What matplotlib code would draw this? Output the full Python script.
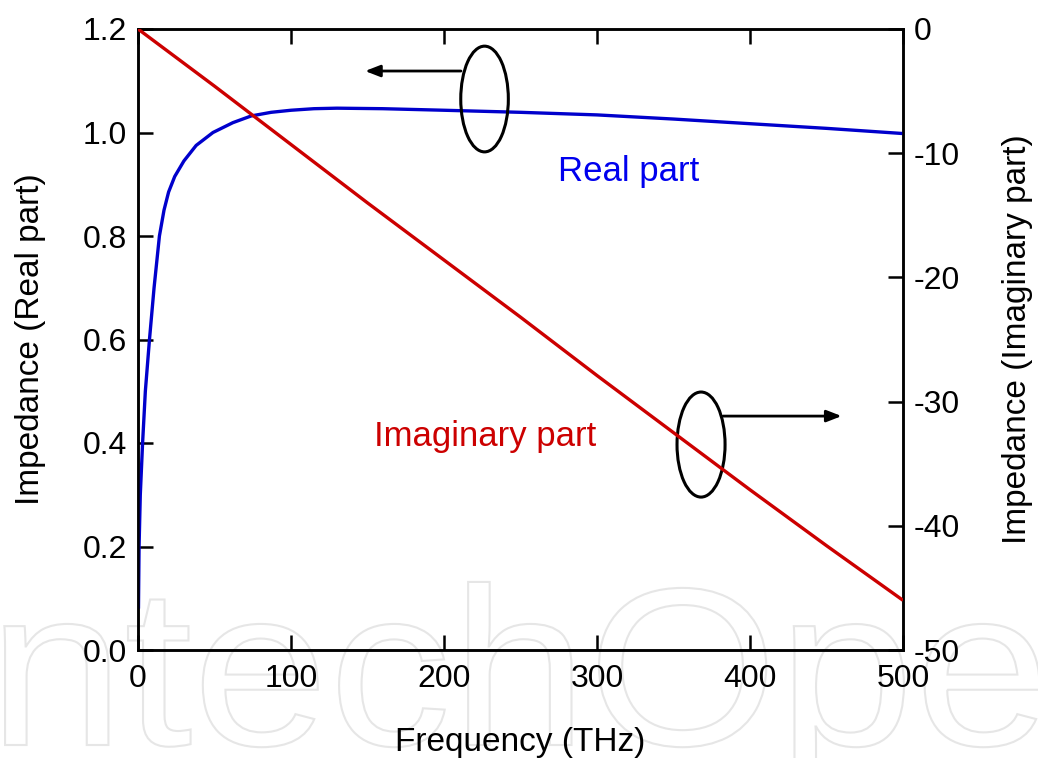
import matplotlib
matplotlib.use("Agg")
import matplotlib.pyplot as plt
from matplotlib.patches import Ellipse, PathPatch
from matplotlib.textpath import TextPath
from matplotlib.font_manager import FontProperties
from matplotlib.transforms import Affine2D, IdentityTransform

plt.rcParams['font.family'] = ['Liberation Sans', 'DejaVu Sans']

# ---- data ----
freq_real = [0.3, 0.7, 1.5, 3, 4.8, 7.5, 10.5, 14, 17, 20, 24, 30, 38, 49, 62, 74,
             87, 100, 115, 130, 160, 200, 250, 300, 350, 400, 450, 500]
real_part = [0.08, 0.2, 0.3, 0.4, 0.5, 0.6, 0.7, 0.8, 0.85, 0.885, 0.915, 0.945, 0.975,
             1.0, 1.019, 1.032, 1.039, 1.043, 1.046, 1.047, 1.046, 1.043, 1.039, 1.034,
             1.026, 1.017, 1.008, 0.998]

freq_imag = [0, 50, 100, 150, 200, 250, 300, 350, 400, 450, 500]
imag_part = [0, -4.6, -9.3, -14.0, -18.6, -23.2, -27.9, -32.5, -37.1, -41.6, -46.0]

x_ticks = [0, 100, 200, 300, 400, 500]
left_ticks = [0.0, 0.2, 0.4, 0.6, 0.8, 1.0, 1.2]
right_ticks = [0, -10, -20, -30, -40, -50]

BLUE = '#0000cc'
RED = '#cc0000'

fig = plt.figure(figsize=(10.38, 7.58), dpi=100)
ax = fig.add_axes([138/1038, 1-650/758, (903-138)/1038, (650-29)/758])
ax.set_facecolor('none')
ax2 = ax.twinx()
ax2.set_facecolor('none')

# watermark (outlined letters)
tp = TextPath((0, 0), "IntechOpen", size=1, prop=FontProperties(family='Liberation Sans'))
wm_tr = Affine2D().scale(245, 225).translate(-80, 13) + IdentityTransform()
wm = PathPatch(tp, facecolor='none', edgecolor='#e6e6e6', lw=1.5, transform=wm_tr, zorder=-5)
fig.add_artist(wm)

ax.plot(freq_real, real_part, color=BLUE, lw=2.4, solid_capstyle='butt', zorder=3)
ax2.plot(freq_imag, imag_part, color=RED, lw=2.4, solid_capstyle='butt', zorder=3)

ax.set_xlim(0, 500)
ax.set_ylim(0, 1.2)
ax2.set_ylim(-50, 0)

ax.set_xticks(x_ticks)
ax.set_xticklabels([str(v) for v in x_ticks])
ax.set_yticks(left_ticks)
ax.set_yticklabels([f"{v:.1f}" for v in left_ticks])
ax2.set_yticks(right_ticks)
ax2.set_yticklabels([str(v) for v in right_ticks])

for a in (ax, ax2):
    for s in a.spines.values():
        s.set_linewidth(1.8)
        s.set_color('black')

ax.tick_params(axis='x', direction='in', top=True, bottom=True, length=11, width=1.8,
               labelsize=23, pad=10)
ax.tick_params(axis='y', direction='in', left=True, right=False, length=11, width=1.8,
               labelsize=23, pad=8)
ax2.tick_params(axis='y', direction='in', right=True, left=False, length=11, width=1.8,
                labelsize=23, pad=8)

ax.set_xlabel("Frequency (THz)", fontsize=24, labelpad=24)
ax.set_ylabel("Impedance (Real part)", fontsize=24, labelpad=26)
ax2.set_ylabel("Impedance (Imaginary part)", fontsize=24, labelpad=30)

# annotations
ax.text(274.5, 0.924, "Real part", color='#0000ee', fontsize=25, ha='left', va='center')
ax.text(154.2, 0.4116, "Imaginary part", color=RED, fontsize=25, ha='left', va='center')

ax.add_patch(Ellipse((226.5, 1.0647), 31.1, 0.2043, fill=False, ec='black', lw=2.2, zorder=4))
ax.add_patch(Ellipse((368.0, 0.397), 31.4, 0.203, fill=False, ec='black', lw=2.2, zorder=4))

arrow_style = dict(arrowstyle='-|>,head_length=0.9,head_width=0.35', color='black', lw=2,
                   shrinkA=0, shrinkB=0)
ax.annotate("", xy=(148.4, 1.1188), xytext=(211.1, 1.1188), arrowprops=arrow_style)
ax.annotate("", xy=(459.9, 0.452), xytext=(382.4, 0.452), arrowprops=arrow_style)

fig.savefig("out.png", dpi=100)
